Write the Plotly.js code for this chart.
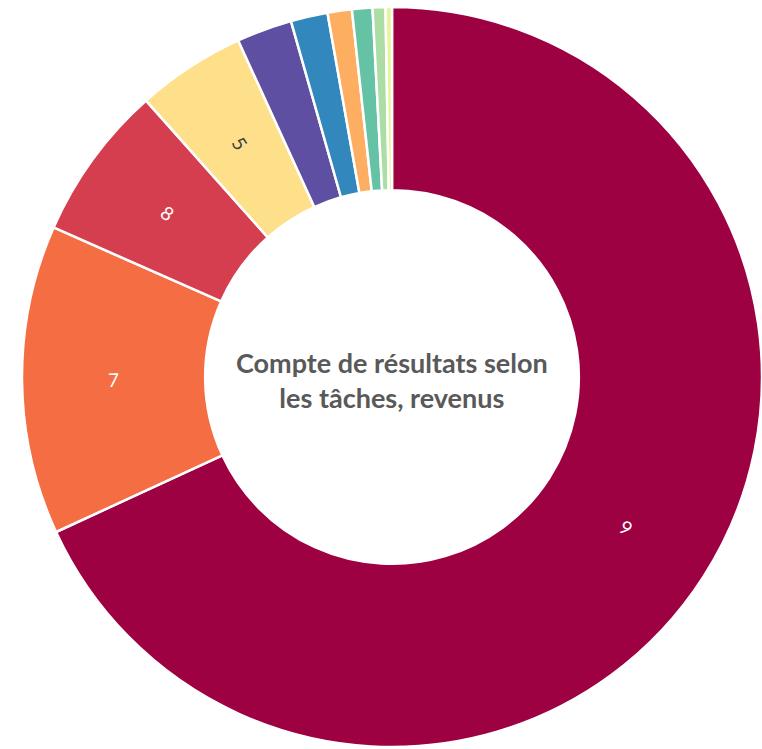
<!DOCTYPE html>
<html>
<head>
<meta charset="utf-8">
<script src="https://cdn.plot.ly/plotly-3.0.1.min.js"></script>
<style>html,body{margin:0;padding:0;background:#fff;}#chart{width:762px;height:749px;}</style>
</head>
<body>
<div id="chart"></div>
<script>
// Categories (clockwise from 12 o'clock)
const categories = ["9", "7", "8", "5", "0", "1", "6", "2", "3", "4"];
// Share of revenues (%)
const values = [68.1, 13.5, 6.8, 4.75, 2.42, 1.61, 1.06, 0.89, 0.56, 0.28];
const colors = ["#9e0142", "#f46d43", "#d53e4f", "#fee08b", "#5e4fa2", "#3288bd", "#fdae61", "#66c2a5", "#abdda4", "#e6f598"];
const centerTitle = "Compte de résultats selon<br>les tâches, revenus";

const W = 762, H = 749, cx = 392, cyTop = 377, R = 370, HOLE = 0.505;
const cyBottom = H - cyTop;

const trace = {
  type: "pie",
  labels: categories,
  values: values,
  textinfo: "none",
  sort: false,
  direction: "clockwise",
  rotation: 0,
  hole: HOLE,
  marker: { colors: colors, line: { color: "#ffffff", width: 2.5 } },
  hoverinfo: "none",
  domain: { x: [(cx - R) / W, (cx + R) / W], y: [(cyBottom - R) / H, (cyBottom + R) / H] }
};

function luminance(hex) {
  const r = parseInt(hex.substr(1, 2), 16) / 255, g = parseInt(hex.substr(3, 2), 16) / 255, b = parseInt(hex.substr(5, 2), 16) / 255;
  return 0.299 * r + 0.587 * g + 0.114 * b;
}

// Slice labels placed at the mid-angle of each slice, radially oriented
const total = values.reduce((a, b) => a + b, 0);
const annotations = [];
let cum = 0;
values.forEach((v, i) => {
  const mid = (cum + v / 2) / total * 360;
  cum += v;
  if (v / total < 0.03) return;
  const rad = mid * Math.PI / 180;
  const rMid = R * (1 + HOLE) / 2;
  let ang = mid - 90;
  if (ang > 90) ang -= 180;
  if (ang < -90) ang += 180;
  annotations.push({
    text: categories[i],
    x: (cx + rMid * Math.sin(rad)) / W,
    y: (cyBottom + rMid * Math.cos(rad)) / H,
    xref: "paper", yref: "paper", xanchor: "center", yanchor: "middle",
    showarrow: false, textangle: ang,
    font: { family: "Lato, sans-serif", size: 19, color: luminance(colors[i]) > 0.6 ? "#404040" : "#ffffff" }
  });
});

annotations.push({
  text: "<b>" + centerTitle + "</b>",
  x: cx / W, y: (H - 380) / H, xref: "paper", yref: "paper",
  xanchor: "center", yanchor: "middle", showarrow: false,
  font: { family: "Lato, sans-serif", size: 27, color: "#595959" }
});

const layout = {
  width: W, height: H,
  margin: { l: 0, r: 0, t: 0, b: 0 },
  paper_bgcolor: "#ffffff",
  showlegend: false,
  annotations: annotations
};

Plotly.newPlot("chart", [trace], layout, { displayModeBar: false, staticPlot: true });
</script>
</body>
</html>
